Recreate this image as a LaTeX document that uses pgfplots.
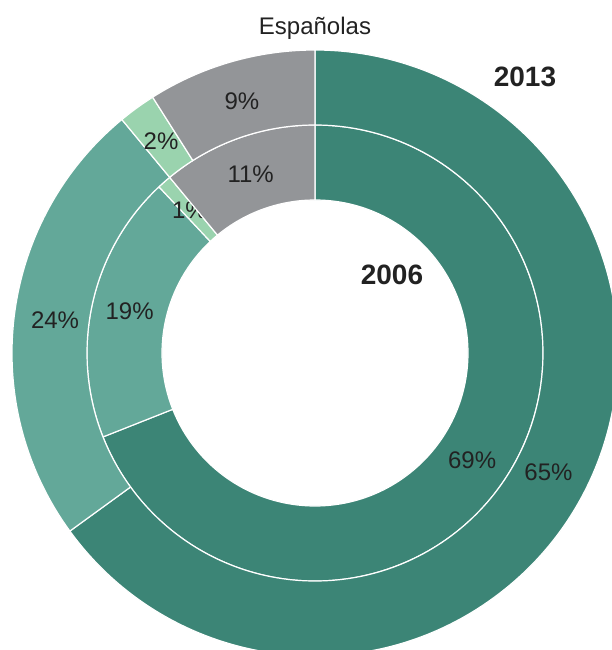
\documentclass[border=0pt]{standalone}
\usepackage{pgfplots}
\pgfplotsset{compat=1.18}
\usepackage{fontspec}
\setmainfont{Liberation Sans}
\usetikzlibrary{calc}
\definecolor{cdark}{HTML}{3C8576}
\definecolor{cmed}{HTML}{63A899}
\definecolor{clight}{HTML}{9AD3AE}
\definecolor{cgray}{HTML}{939598}
\definecolor{ctext}{HTML}{222222}
\begin{document}
\begin{tikzpicture}[font=\fontsize{12}{14}\selectfont]
\useasboundingbox (0,0) rectangle (306pt,325pt);
\clip (0,0) rectangle (306pt,325pt);
\begin{axis}[at={(0,0)}, anchor=south west, width=306pt, height=325pt, scale only axis,
  xmin=0, xmax=612, ymin=0, ymax=650, hide axis, clip=false]
\pgfplotsextra{
  \coordinate (C) at (axis cs:315,297);
  % inner ring: 2006
  \xdef\cur{90}
  \foreach \v/\c in {69/cdark,19/cmed,1/clight,11/cgray}{
    \pgfmathsetmacro\e{\cur-3.6*\v}
    \pgfmathsetmacro\m{\cur-1.8*\v}
    \fill[\c, draw=white, line width=0.6pt] ($(C)+(\cur:76.5pt)$) arc[start angle=\cur, end angle=\e, radius=76.5pt]
      -- ($(C)+(\e:114pt)$) arc[start angle=\e, end angle=\cur, radius=114pt] -- cycle;
    \node[text=ctext] at ($(C)+(\m:95pt)$) {\v\%};
    \xdef\cur{\e}
  }
  % outer ring: 2013
  \xdef\cur{90}
  \foreach \v/\c in {65/cdark,24/cmed,2/clight,9/cgray}{
    \pgfmathsetmacro\e{\cur-3.6*\v}
    \pgfmathsetmacro\m{\cur-1.8*\v}
    \fill[\c, draw=white, line width=0.6pt] ($(C)+(\cur:114pt)$) arc[start angle=\cur, end angle=\e, radius=114pt]
      -- ($(C)+(\e:151.5pt)$) arc[start angle=\e, end angle=\cur, radius=151.5pt] -- cycle;
    \node[text=ctext] at ($(C)+(\m:131pt)$) {\v\%};
    \xdef\cur{\e}
  }
  \node[text=ctext] at (axis cs:315,622) {Españolas};
  \node[text=ctext, font=\fontsize{14}{16}\selectfont\bfseries] at (axis cs:525,573) {2013};
  \node[text=ctext, font=\fontsize{14}{16}\selectfont\bfseries] at (axis cs:392,375) {2006};
}
\end{axis}
\end{tikzpicture}
\end{document}
